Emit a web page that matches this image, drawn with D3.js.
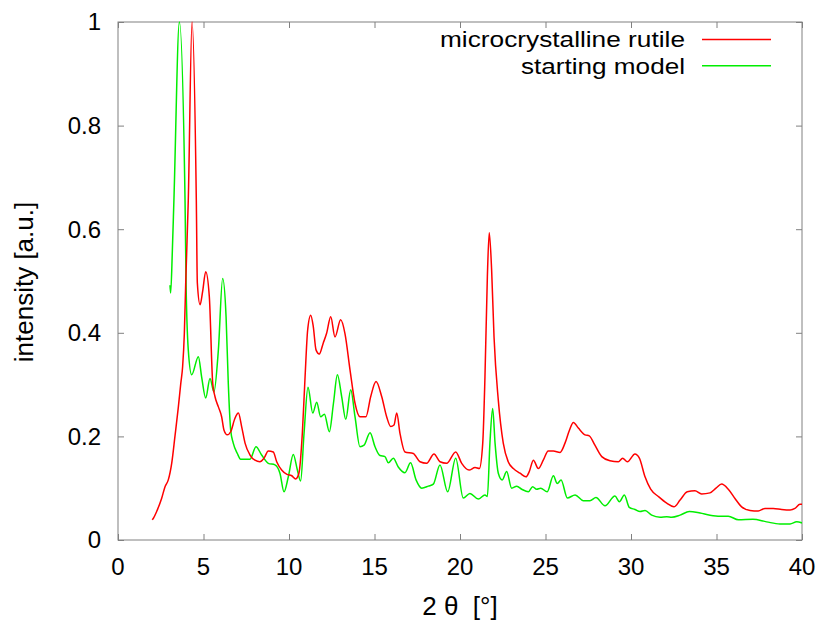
<!DOCTYPE html>
<html><head><meta charset="utf-8">
<script src="https://cdn.jsdelivr.net/npm/d3@7"></script>
<style>body{margin:0;background:#fff}svg{display:block}text{font-family:"Liberation Sans",Arial,sans-serif;fill:#000}</style>
</head><body>
<script>
// Data
const seriesNames = ["microcrystalline rutile", "starting model"];
const rutileX = [2.0,2.07,2.26,2.55,2.75,2.94,3.14,3.33,3.53,3.67,3.78,3.88,3.96,4.11,4.33,4.58,4.64,4.8,4.95,5.13,5.34,5.54,5.67,5.87,6.06,6.2,6.39,6.59,6.84,7.04,7.23,7.43,7.72,8.01,8.3,8.54,8.79,9.08,9.28,9.57,9.86,10.16,10.39,10.58,10.78,10.94,11.09,11.27,11.42,11.58,11.77,12.0,12.2,12.44,12.69,13.02,13.27,13.57,13.86,14.15,14.5,14.78,15.09,15.42,15.71,15.95,16.14,16.3,16.49,16.78,17.27,17.66,18.05,18.48,18.83,19.22,19.75,20.1,20.53,20.88,21.13,21.33,21.46,21.6,21.71,21.85,21.99,22.24,22.53,22.82,23.12,23.51,23.86,24.05,24.29,24.58,24.87,25.16,25.46,25.85,26.14,26.4,26.63,26.92,27.31,27.56,27.89,28.29,28.77,29.26,29.51,29.79,30.23,30.49,30.82,31.15,31.6,32.09,32.51,32.87,33.29,33.74,34.13,34.62,34.97,35.3,35.69,36.08,36.47,36.96,37.44,37.84,38.32,38.81,39.3,39.59,39.88,40.0];
const rutileY = [0.039,0.042,0.055,0.08,0.103,0.116,0.148,0.2,0.257,0.302,0.335,0.399,0.496,0.656,1.0,0.656,0.496,0.454,0.48,0.518,0.47,0.302,0.277,0.257,0.238,0.212,0.203,0.209,0.235,0.245,0.219,0.187,0.164,0.154,0.151,0.158,0.172,0.170,0.151,0.135,0.127,0.124,0.118,0.129,0.206,0.315,0.405,0.434,0.412,0.367,0.359,0.38,0.399,0.431,0.392,0.425,0.399,0.328,0.264,0.238,0.238,0.277,0.306,0.277,0.238,0.219,0.222,0.245,0.206,0.170,0.167,0.151,0.148,0.166,0.151,0.148,0.170,0.148,0.135,0.140,0.138,0.187,0.315,0.508,0.593,0.521,0.392,0.270,0.187,0.151,0.138,0.129,0.122,0.132,0.154,0.138,0.154,0.172,0.172,0.169,0.187,0.212,0.227,0.216,0.203,0.201,0.183,0.161,0.153,0.151,0.158,0.151,0.166,0.158,0.122,0.098,0.084,0.071,0.064,0.077,0.093,0.095,0.089,0.091,0.1,0.108,0.098,0.08,0.064,0.057,0.056,0.061,0.061,0.059,0.058,0.061,0.069,0.069];
const modelX = [3.04,3.08,3.18,3.27,3.59,3.92,3.98,4.11,4.31,4.7,4.89,5.13,5.38,5.61,5.87,6.12,6.32,6.45,6.59,6.74,6.98,7.17,7.72,8.07,8.4,8.79,9.18,9.47,9.71,9.96,10.25,10.49,10.68,10.88,11.11,11.39,11.62,11.85,12.07,12.36,12.6,12.83,13.08,13.32,13.61,13.86,14.15,14.39,14.74,15.03,15.32,15.61,15.81,16.1,16.39,16.78,17.11,17.43,17.76,18.15,18.44,18.83,19.28,19.75,20.19,20.58,21.07,21.46,21.6,21.75,21.91,22.05,22.24,22.47,22.73,23.02,23.32,23.61,24.0,24.25,24.48,24.72,25.1,25.46,25.69,25.91,26.28,26.73,27.21,27.6,27.95,28.48,29.06,29.32,29.61,29.9,30.23,30.53,30.82,31.21,31.7,32.09,32.38,32.87,33.41,34.04,34.62,35.2,35.69,36.28,37.13,37.93,38.71,39.3,39.69,40.0];
const modelY = [0.492,0.477,0.56,0.656,1.0,0.656,0.496,0.367,0.319,0.354,0.315,0.274,0.312,0.286,0.367,0.505,0.431,0.302,0.212,0.187,0.167,0.156,0.156,0.180,0.164,0.148,0.145,0.129,0.093,0.122,0.165,0.135,0.114,0.206,0.295,0.245,0.266,0.238,0.243,0.209,0.264,0.319,0.277,0.233,0.29,0.238,0.18,0.183,0.207,0.18,0.163,0.161,0.149,0.158,0.141,0.13,0.149,0.116,0.1,0.104,0.108,0.145,0.093,0.158,0.081,0.09,0.079,0.087,0.084,0.187,0.254,0.187,0.129,0.116,0.132,0.1,0.104,0.098,0.093,0.103,0.098,0.1,0.093,0.124,0.109,0.116,0.081,0.087,0.076,0.076,0.082,0.066,0.085,0.074,0.087,0.063,0.059,0.055,0.057,0.048,0.044,0.045,0.044,0.048,0.055,0.052,0.048,0.046,0.046,0.039,0.04,0.035,0.031,0.031,0.035,0.033];
const xTicks = [0,5,10,15,20,25,30,35,40];
const yTicks = [0,0.2,0.4,0.6,0.8,1];
const xLabel = "2 θ  [°]";
const yLabel = "intensity [a.u.]";
const colors = ["#ff0000", "#00ee00"];

const W = 822, H = 627;
const m = {left:118, right:802, top:22, bottom:540};
const svg = d3.select("body").append("svg").attr("width", W).attr("height", H);
const x = d3.scaleLinear().domain([0,40]).range([m.left, m.right]);
const y = d3.scaleLinear().domain([0,1]).range([m.bottom, m.top]);
const axisColor = "#808080";
const fs = 24, fsL = 26, fsLeg = 22.5;

// frame
svg.append("rect").attr("x", m.left).attr("y", m.top).attr("width", m.right-m.left).attr("height", m.bottom-m.top)
  .attr("fill","none").attr("stroke", axisColor).attr("stroke-width",1);

// ticks (inside, mirrored)
const tl = 6;
const bAx = d3.axisBottom(x).tickValues(xTicks).tickSize(-tl).tickFormat("");
const tAx = d3.axisTop(x).tickValues(xTicks).tickSize(-tl).tickFormat("");
const lAx = d3.axisLeft(y).tickValues(yTicks).tickSize(-tl).tickFormat("");
const rAx = d3.axisRight(y).tickValues(yTicks).tickSize(-tl).tickFormat("");
[[bAx,`translate(0,${m.bottom})`],[tAx,`translate(0,${m.top})`],[lAx,`translate(${m.left},0)`],[rAx,`translate(${m.right},0)`]].forEach(([a,t])=>{
  const g = svg.append("g").attr("transform", t).call(a);
  g.select(".domain").remove();
  g.selectAll("line").attr("stroke", axisColor);
});

// tick labels
svg.append("g").selectAll("text").data(xTicks).join("text")
  .attr("x", d=>x(d)).attr("y", 575).attr("text-anchor","middle").attr("font-size", fs).text(d=>d);
svg.append("g").selectAll("text").data(yTicks).join("text")
  .attr("x", 101).attr("y", d=>y(d)).attr("dy","0.35em").attr("text-anchor","end").attr("font-size", fs).text(d=>d);

// axis titles
svg.append("text").attr("x", 460).attr("y", 615).attr("text-anchor","middle").attr("font-size", fsL)
  .style("white-space","pre").text(xLabel);
svg.append("text").attr("transform","translate(33,282) rotate(-90)").attr("text-anchor","middle").attr("font-size", fsL).text(yLabel);

// curves
const series = [[rutileX, rutileY],[modelX, modelY]];
const line = d3.line().x(d=>x(d[0])).y(d=>y(d[1])).curve(d3.curveMonotoneX);
svg.append("clipPath").attr("id","c").append("rect")
  .attr("x", m.left).attr("y", m.top-1).attr("width", m.right-m.left).attr("height", m.bottom-m.top+1);
[1,0].forEach(i=>{
  const pts = series[i][0].map((v,k)=>[v, series[i][1][k]]);
  svg.append("path").attr("d", line(pts)).attr("fill","none").attr("stroke", colors[i])
    .attr("stroke-width",1.5).attr("stroke-linejoin","round").attr("clip-path","url(#c)");
});

// legend
const ly = [39.5, 65.7];
const legW = [245, 164];
seriesNames.forEach((n,i)=>{
  svg.append("text").attr("x", 685 - legW[i]).attr("y", ly[i]).attr("dy","0.35em")
    .attr("textLength", legW[i]).attr("lengthAdjust","spacingAndGlyphs")
    .attr("font-size", fsLeg).text(n);
  svg.append("line").attr("x1", 702).attr("x2", 771).attr("y1", ly[i]).attr("y2", ly[i]).attr("stroke", colors[i]).attr("stroke-width",1.5);
});
</script>
</body></html>
